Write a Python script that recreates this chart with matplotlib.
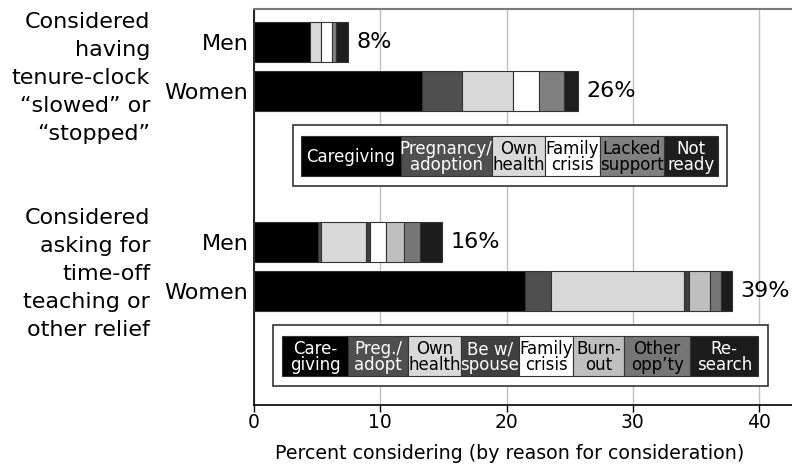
import matplotlib
matplotlib.use("Agg")
import matplotlib.pyplot as plt
from matplotlib.patches import Rectangle
import matplotlib.transforms as mtransforms

plt.rcParams['font.family'] = ['DejaVu Sans']

# ---------------- data ----------------
groups = ['Considered\nhaving\ntenure-clock\n\u201cslowed\u201d or\n\u201cstopped\u201d',
          'Considered\nasking for\ntime-off\nteaching or\nother relief']
sexes = ['Men', 'Women']

tenure_reasons = ['Caregiving', 'Pregnancy/\nadoption', 'Own\nhealth', 'Family\ncrisis',
                  'Lacked\nsupport', 'Not\nready']
tenure_colors = ['#000000', '#4f4f4f', '#d9d9d9', '#ffffff', '#808080', '#1e1e1e']
tenure_text = ['white', 'white', 'black', 'black', 'black', 'white']
tenure_men = [4.44, 0.0, 0.85, 0.87, 0.35, 0.92]
tenure_women = [13.33, 3.10, 4.05, 2.06, 2.04, 1.05]
tenure_totals = ['8%', '26%']

timeoff_reasons = ['Care-\ngiving', 'Preg./\nadopt', 'Own\nhealth', 'Be w/\nspouse', 'Family\ncrisis',
                   'Burn-\nout', 'Other\nopp\u2019ty', 'Re-\nsearch']
timeoff_colors = ['#000000', '#4f4f4f', '#d9d9d9', '#3f3f3f', '#ffffff', '#bfbfbf', '#767676', '#1c1c1c']
timeoff_text = ['white', 'white', 'black', 'white', 'black', 'black', 'black', 'white']
timeoff_men = [5.05, 0.27, 3.57, 0.32, 1.27, 1.40, 1.24, 1.77]
timeoff_women = [21.48, 2.07, 10.46, 0.45, 0.0, 1.67, 0.82, 0.90]
timeoff_totals = ['16%', '39%']

xticks = [0, 10, 20, 30, 40]
xlabel = 'Percent considering (by reason for consideration)'

# legend cell boundaries (in x data units) -- layout
leg1_edges = [3.70, 11.62, 18.82, 23.04, 27.39, 32.46, 36.71]
leg2_edges = [2.25, 7.48, 12.17, 16.40, 20.97, 25.29, 29.31, 34.52, 39.94]

# ---------------- layout ----------------
W, H = 792, 466
fig = plt.figure(figsize=(W / 100, H / 100), dpi=100)
ax_left, ax_bottom, ax_top = 254, 405, 9
ax = fig.add_axes([ax_left / W, (H - ax_bottom) / H, 1 - ax_left / W, (ax_bottom - ax_top) / H])

ax.set_xlim(0, (W - ax_left) / 12.63)
ax.set_ylim(ax_bottom - ax_top, 0)  # y in pixels from top of axes

bar_h = 40
row_step = 49
group_base = [33, 233]
group_label_offset = [12, 8]

datasets = [(tenure_men, tenure_women, tenure_colors, tenure_totals),
            (timeoff_men, timeoff_women, timeoff_colors, timeoff_totals)]

ytick_pos, ytick_lab = [], []
for gi, (men, women, colors, totals) in enumerate(datasets):
    for si, vals in enumerate([men, women]):
        y = group_base[gi] + si * row_step
        ytick_pos.append(y)
        ytick_lab.append(sexes[si])
        left = 0
        for v, c in zip(vals, colors):
            if v > 0:
                ax.barh(y, v, left=left, height=bar_h, color=c, edgecolor='#333333',
                        linewidth=0.8, zorder=3)
            left += v
        ax.annotate(totals[si], xy=(left, y), xytext=(6, 0), textcoords='offset points',
                    va='center', ha='left', fontsize=16, zorder=4)
    # group label
    ymid = group_base[gi] + row_step / 2 + group_label_offset[gi]
    ax.text(-0.193, ymid, groups[gi], transform=mtransforms.blended_transform_factory(ax.transAxes, ax.transData),
            ha='right', va='center', multialignment='right', fontsize=16, linespacing=1.5)

ax.set_yticks(ytick_pos)
ax.set_yticklabels(ytick_lab, fontsize=16)
ax.tick_params(axis='y', length=0, pad=4)

# legends
def draw_legend(edges, labels, colors, tcolors, box_x, box_y, cell_y):
    ax.add_patch(Rectangle((box_x[0], box_y[0]), box_x[1] - box_x[0], box_y[1] - box_y[0],
                           facecolor='white', edgecolor='#333333', linewidth=1.2, zorder=5))
    for i, lab in enumerate(labels):
        x0, x1 = edges[i], edges[i + 1]
        ax.add_patch(Rectangle((x0, cell_y[0]), x1 - x0, cell_y[1] - cell_y[0],
                               facecolor=colors[i], edgecolor='#333333', linewidth=0.8, zorder=6))
        ax.text((x0 + x1) / 2, (cell_y[0] + cell_y[1]) / 2 + 1, lab, ha='center', va='center',
                color=tcolors[i], fontsize=12, linespacing=0.85, zorder=7)

draw_legend(leg1_edges, tenure_reasons, tenure_colors, tenure_text,
            (3.05, 37.45), (116, 177), (127, 167))
draw_legend(leg2_edges, timeoff_reasons, timeoff_colors, timeoff_text,
            (1.5, 40.7), (316, 377), (327, 367))

# axes styling
ax.set_xticks(xticks)
ax.set_xticklabels([str(t) for t in xticks], fontsize=13.5)
ax.tick_params(axis='x', length=5, width=1, color='black', pad=1)
ax.set_xlabel(xlabel, fontsize=13.7)
ax.xaxis.set_label_coords(0.476, -0.098)
ax.grid(axis='x', color='#c0c0c0', linewidth=1, zorder=0)
ax.set_axisbelow(True)
ax.spines['right'].set_visible(False)
ax.spines['top'].set_color('#7a7a7a')
ax.spines['top'].set_linewidth(1.5)
ax.spines['left'].set_color('black')
ax.spines['bottom'].set_color('black')
ax.spines['left'].set_linewidth(1.2)
ax.spines['bottom'].set_linewidth(1.2)

fig.savefig('out.png', dpi=100)
